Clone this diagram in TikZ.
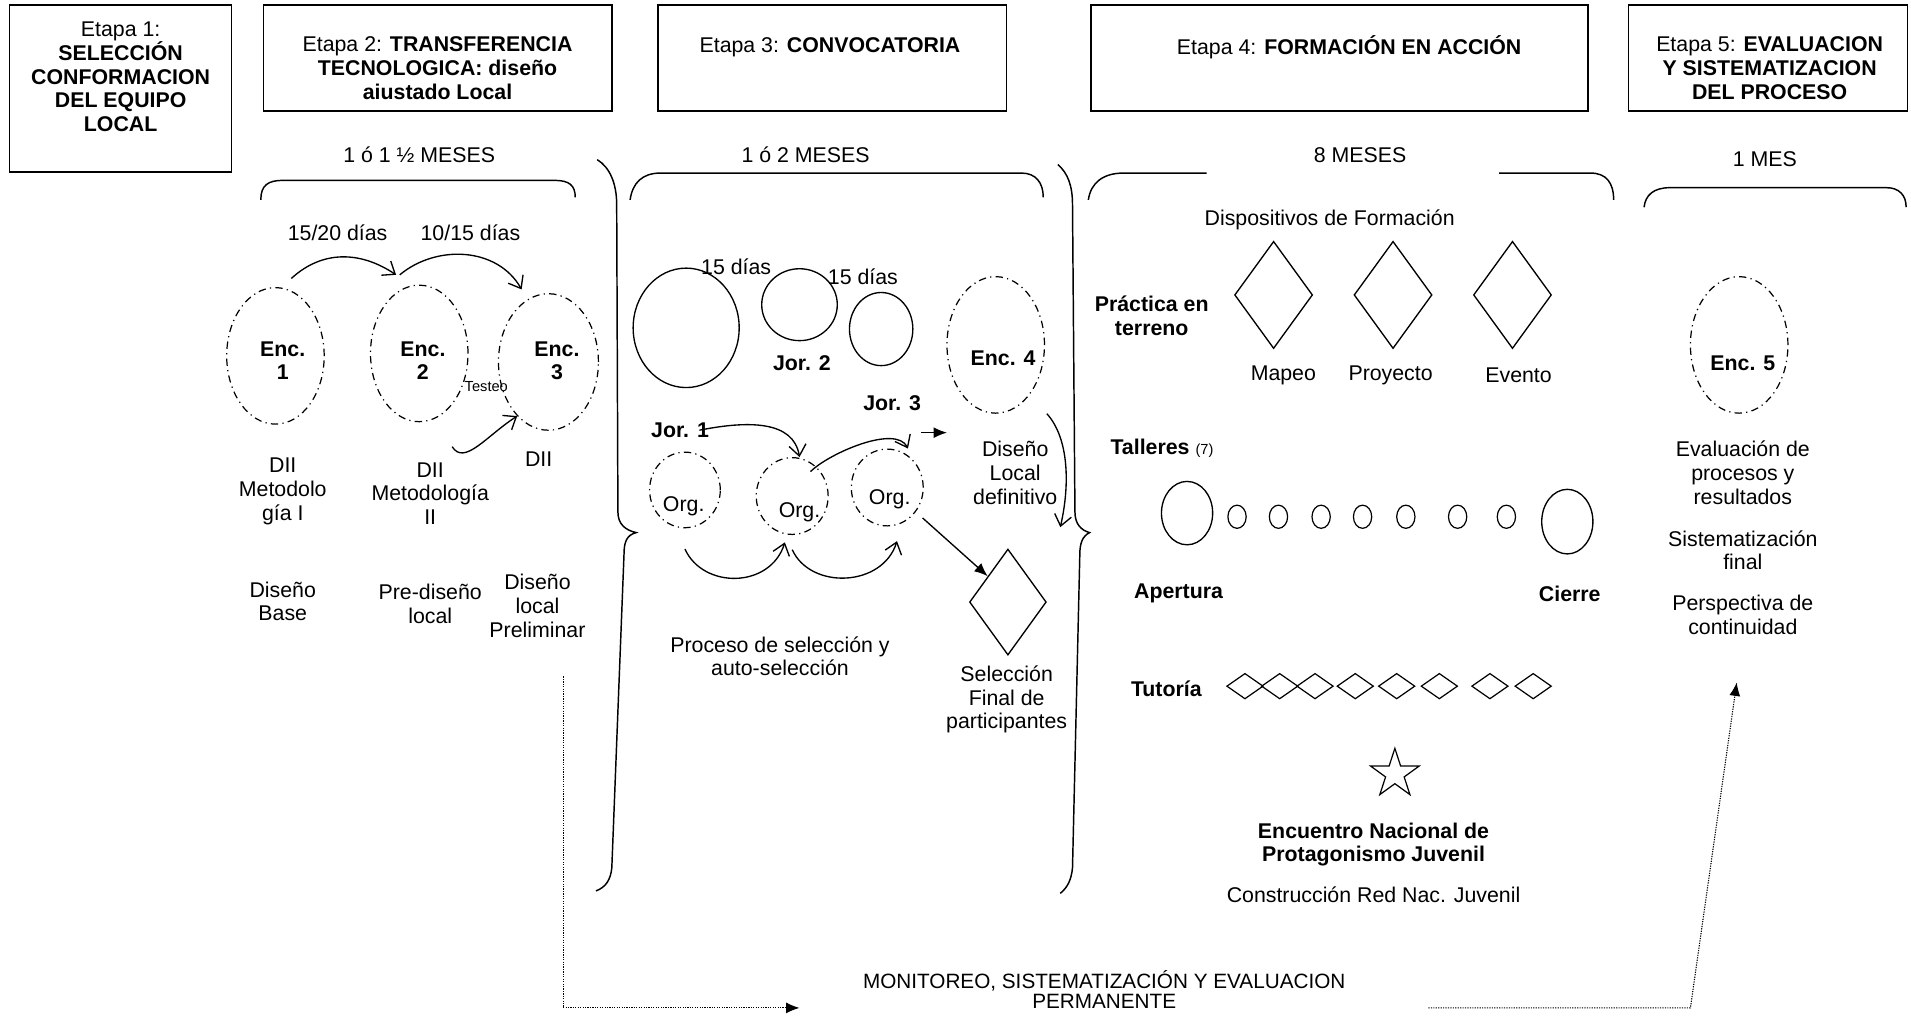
\documentclass[tikz,border=0pt]{standalone}
\usepackage{fontspec}
\setmainfont{Liberation Sans}
\usetikzlibrary{shapes.geometric,arrows.meta,calc}
\begin{document}
\begin{tikzpicture}[x=1pt,y=-1pt,
  every node/.style={font=\fontsize{17.5}{19.5}\selectfont, align=center, inner sep=0pt},
  bnode/.style={font=\fontsize{17.5}{19.5}\selectfont\bfseries},
  smallt/.style={font=\fontsize{12}{14}\selectfont},
  stagebox/.style={draw, line width=1.2pt, inner sep=0pt},
  dd/.style={dash pattern=on 6pt off 3.5pt on 1pt off 3.5pt, line width=1pt},
  encel/.style={draw, ellipse, dd, minimum width=80pt, minimum height=112pt},
  orgel/.style={draw, ellipse, dd, minimum width=59pt, minimum height=63pt},
  solidel/.style={draw, ellipse, line width=1.1pt},
  dia/.style={draw, diamond, line width=1.1pt},
  arr/.style={line width=1.1pt, -{Straight Barb[length=9pt,width=14pt]}},
  farr/.style={line width=1.1pt, -{Latex[length=11pt,width=9pt]}},
  dotarr/.style={line width=0.9pt, dash pattern=on 1pt off 1pt, -{Latex[length=11pt,width=9pt]}},
  brace/.style={line width=1.2pt}
]
\useasboundingbox (0,0) rectangle (1568,834);

% ---------- stage boxes ----------
\node[stagebox, minimum width=182pt, minimum height=137pt] (b1) at (99,72.5) {};
\node (t1) at (99,63) {Etapa 1:\\\textbf{SELECCIÓN}\\\textbf{CONFORMACION}\\\textbf{DEL EQUIPO}\\\textbf{LOCAL}};
\node[stagebox, minimum width=286pt, minimum height=87pt] (b2) at (359,47.5) {};
\node (t2) at (359,56) {Etapa 2: \textbf{TRANSFERENCIA}\\\textbf{TECNOLOGICA: diseño}\\\textbf{aiustado Local}};
\node[stagebox, minimum width=286pt, minimum height=87pt] (b3) at (683,47.5) {};
\node (t3) at (681,39) {Etapa 3: \textbf{CONVOCATORIA}};
\node[stagebox, minimum width=408pt, minimum height=87pt] (b4) at (1099,47.5) {};
\node (t4) at (1107,39) {Etapa 4: \textbf{FORMACIÓN EN ACCIÓN}};
\node[stagebox, minimum width=229pt, minimum height=87pt] (b5) at (1450.5,47.5) {};
\node (t5) at (1452,56) {Etapa 5: \textbf{EVALUACION}\\\textbf{Y SISTEMATIZACION}\\\textbf{DEL PROCESO}};

% ---------- durations ----------
\node (d2) at (344,127) {1 ó 1 ½ MESES};
\node (d3) at (661,127) {1 ó 2 MESES};
\node (d4) at (1116,127) {8 MESES};
\node (d5) at (1448,131) {1 MES};

% ---------- horizontal braces ----------
\draw[brace] (214,164) .. controls (214,152) and (220,148) .. (232,148) -- (455,148) .. controls (467,148) and (472,152) .. (472,162);
\draw[brace] (517,164) .. controls (519,150) and (527,142) .. (542,142) -- (838,142) .. controls (850,142) and (856,150) .. (856,162);
\draw[brace] (893,164) .. controls (895,150) and (905,142) .. (922,142) -- (990,142);
\draw[brace] (1230,142) -- (1305,142) .. controls (1318,142) and (1324,150) .. (1324,164);
\draw[brace] (1349,170) .. controls (1350,160) and (1357,154) .. (1370,154) -- (1548,154) .. controls (1558,154) and (1564,160) .. (1564,170);

% ---------- vertical braces ----------
\draw[brace] (490,131) .. controls (500,137) and (506,150) .. (506,168) -- (507,420) .. controls (507,430) and (513,435) .. (522,437) .. controls (514,439) and (512,445) .. (512,455) -- (502,712) .. controls (501,722) and (497,728) .. (489,731);
\draw[brace] (868,135) .. controls (876,142) and (880,152) .. (880,168) -- (882,420) .. controls (882,430) and (887,435) .. (894,437) .. controls (888,440) and (886,446) .. (886,455) -- (880,712) .. controls (879,722) and (876,728) .. (870,733);

% ---------- stage 2 ----------
\node[encel] (enc1) at (226,292) {};
\node[encel] (enc2) at (344,290) {};
\node[encel, minimum width=82pt] (enc3) at (450,297) {};
\node[bnode] (e1t) at (232,296) {Enc.\\1};
\node[bnode] (e2t) at (347,296) {Enc.\\2};
\node[bnode] (e3t) at (457,296) {Enc.\\3};
\node (l1520) at (277,191) {15/20 días};
\node (l1015) at (386,191) {10/15 días};
\node[smallt] (testeo) at (399,317) {Testeo};
\draw[arr] ([shift={(13pt,7pt)}]enc1.north) .. controls +(25,-23) and +(-30,-20) .. ([shift={(-19pt,8pt)}]enc2.north);
\draw[arr] ([shift={(-16pt,8pt)}]enc2.north) .. controls +(30,-25) and +(-20,-35) .. ([shift={(-22pt,3pt)}]enc3.north);
\draw[arr] ([shift={(27pt,-20pt)}]enc2.south) .. controls +(10,16) and +(-25,16) .. (enc3.240);
\node (dii1) at (232,403) {DII\\Metodolo\\gía I};
\node (dii2) at (353,405) {DII\\Metodología\\II};
\node (dii3) at (442,377) {DII};
\node (dbase) at (232,493.5) {Diseño\\Base};
\node (dpre) at (353,495.5) {Pre-diseño\\local};
\node (dprel) at (441,497) {Diseño\\local\\Preliminar};

% ---------- stage 3 ----------
\node[solidel, minimum width=87pt, minimum height=98pt] (c1) at (563,269) {};
\node[solidel, minimum width=62pt, minimum height=59pt] (c2) at (656,250) {};
\node[solidel, minimum width=52pt, minimum height=60pt] (c3) at (723,270) {};
\node (d15a) at (604,219) {15 días};
\node (d15b) at (708,227) {15 días};
\node[bnode] (jor2) at (658,298) {Jor. 2};
\node[bnode] (jor3) at (732,331) {Jor. 3};
\node[bnode] (jor1) at (558,353) {Jor. 1};
\node[encel] (enc4) at (817,283) {};
\node[bnode] (e4t) at (823,294) {Enc. 4};
\node[orgel, minimum width=58pt, minimum height=62pt] (org1) at (562,402) {};
\node[orgel] (org2) at (650,407) {};
\node[orgel] (org3) at (728,400) {};
\node (o1t) at (561,415) {Org.};
\node (o2t) at (656,420) {Org.};
\node (o3t) at (730,410) {Org.};
\draw[arr] ([xshift=-8pt]jor1.east) .. controls +(40,-8) and +(-5,-30) .. ([xshift=6pt]org2.north);
\draw[arr] ([shift={(15pt,-12pt)}]org2.north) .. controls +(15,-15) and +(-10,-20) .. ([shift={(17pt,0pt)}]org3.north);
\draw[arr] ([yshift=-17pt]org1.south) .. controls +(15,33) and +(-12,38) .. ([xshift=-6pt,yshift=-6pt]org2.south);
\draw[arr] ([yshift=-12pt]org2.south) .. controls +(15,33) and +(-12,38) .. ([xshift=8pt,yshift=-12pt]org3.south);
\coordinate (sa1) at (756,355);
\coordinate (sa2) at (777,355);
\draw[farr] (sa1) -- (sa2);
\node[dia, minimum width=63pt, minimum height=87pt] (sel) at (827,494) {};
\draw[farr] ([shift={(29pt,-25pt)}]org3.center) -- (sel.128);
\node (dld) at (833,388) {Diseño\\Local\\definitivo};
\draw[arr] ([xshift=42pt]enc4.south) .. controls +(18,20) and +(8,-35) .. ([shift={(53pt,-93pt)}]enc4.south);
\node (proc) at (640,538.5) {Proceso de selección y\\auto-selección};
\node (self) at (826,574) {Selección\\Final de\\participantes};

% ---------- stage 4 ----------
\node (disp) at (1091,180) {Dispositivos de Formación};
\node[bnode] (prac) at (945,259) {Práctica en\\terreno};
\node[dia, minimum width=64pt, minimum height=88pt] (dm1) at (1045,242) {};
\node[dia, minimum width=64pt, minimum height=88pt] (dm2) at (1143,242) {};
\node[dia, minimum width=64pt, minimum height=88pt] (dm3) at (1241,242) {};
\node (mapeo) at (1053,308) {Mapeo};
\node (proy) at (1141,308) {Proyecto};
\node (evento) at (1246,308) {Evento};
\node[anchor=west] (talleres) at (911,368) {\textbf{Talleres} {\fontsize{12}{14}\selectfont (7)}};
\node[solidel, minimum width=42pt, minimum height=52pt] (ap) at (974,421) {};
\foreach \i/\x in {1/1015,2/1049,3/1084,4/1118,5/1153.5,6/1196,7/1236}
  \node[solidel, line width=1pt, minimum width=15pt, minimum height=19pt] (tl\i) at (\x,424) {};
\node[solidel, minimum width=42pt, minimum height=53pt] (ci) at (1286,428) {};
\node[bnode] (apt) at (967,487) {Apertura};
\node[bnode] (cit) at (1288,487) {Cierre};
\node[bnode] (tut) at (957,565) {Tutoría};
\foreach \i/\x in {1/1021.5,2/1050,3/1079,4/1112,5/1146,6/1181,7/1222.5,8/1258}
  \node[dia, line width=1pt, minimum width=30pt, minimum height=21pt] (td\i) at (\x,563) {};
\node[draw, star, star points=5, star point ratio=2.618, line width=1pt, minimum size=42pt] (star) at (1144.5,635) {};
\node[bnode] (enp) at (1127,693) {Encuentro Nacional de\\Protagonismo Juvenil};
\node (crn) at (1127,734) {Construcción Red Nac. Juvenil};

% ---------- stage 5 ----------
\node[encel] (enc5) at (1427,283) {};
\node[bnode] (e5t) at (1430,298) {Enc. 5};
\node (ev) at (1430,388) {Evaluación de\\procesos y\\resultados};
\node (sf) at (1430,451.5) {Sistematización\\final};
\node (pc) at (1430,504.5) {Perspectiva de\\continuidad};

% ---------- monitoring ----------
\node[font=\fontsize{17}{16.5}\selectfont] (mon) at (906,812) {MONITOREO, SISTEMATIZACIÓN Y EVALUACION\\PERMANENTE};
\coordinate (ml0) at (462,555);
\coordinate (ml1) at (462,827);
\coordinate (ml2) at (656,827);
\draw[dotarr] (ml0) -- (ml1) -- (ml2);
\coordinate (mr0) at (1172,827);
\coordinate (mr1) at (1387,827);
\coordinate (mr2) at (1425,560);
\draw[dotarr] (mr0) -- (mr1) -- (mr2);
\end{tikzpicture}
\end{document}
